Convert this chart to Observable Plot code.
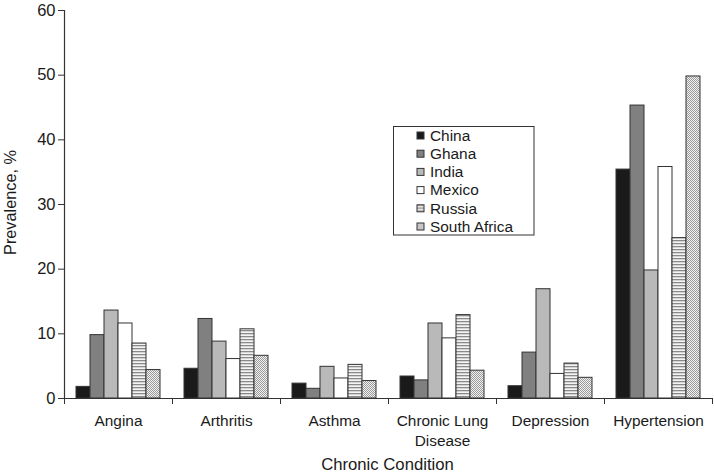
<!DOCTYPE html>
<html><head><meta charset="utf-8">
<script src="https://cdn.jsdelivr.net/npm/d3@7"></script>
<script src="https://cdn.jsdelivr.net/npm/@observablehq/plot@0.6"></script>
<style>
body{margin:0;background:#fff;}
#chart{position:relative;width:714px;height:474px;}
#chart g[aria-label="y-axis tick label"], #chart g[aria-label="y-axis tick label"] text{font-size:16.5px !important;}
#chart g[aria-label="fx-axis tick label"], #chart g[aria-label="fx-axis tick label"] text, #chart g[aria-label="fx-axis tick label"] tspan{font-size:15.4px !important;}
</style>
</head><body><div id="chart"></div>
<script>
const conditions = ["Angina","Arthritis","Asthma","Chronic Lung Disease","Depression","Hypertension"];
const countries = ["China","Ghana","India","Mexico","Russia","South Africa"];
const china = [1.8,4.6,2.3,3.4,1.9,35.4];
const ghana = [9.8,12.3,1.5,2.8,7.1,45.3];
const india = [13.6,8.8,4.9,11.6,16.9,19.8];
const mexico = [11.6,6.1,3.1,9.3,3.8,35.8];
const russia = [8.5,10.7,5.2,12.9,5.4,24.8];
const southAfrica = [4.4,6.6,2.7,4.3,3.2,49.8];
const yTicks = [0,10,20,30,40,50,60];
const fills = ["#1a1a1a","#808080","#b9b9b9","#ffffff","url(#pat-russia)","url(#pat-safrica)"];

const series = [china, ghana, india, mexico, russia, southAfrica];
const data = [];
conditions.forEach((c, i) => countries.forEach((k, j) => data.push({condition: c, country: k, value: series[j][i]})));

const font = "'Liberation Sans', Arial, Helvetica, sans-serif";
const plot = Plot.plot({
  width: 714, height: 474,
  marginTop: 10, marginBottom: 76, marginLeft: 62, marginRight: 1,
  style: {fontFamily: font, fontSize: "15px", color: "#1a1a1a", background: "white", overflow: "visible"},
  fx: {domain: conditions, padding: 0},
  x: {domain: countries, paddingInner: 0, paddingOuter: 0.74, axis: null},
  y: {domain: [0, 60]},
  color: {domain: countries, range: fills},
  marks: [
    Plot.barY(data, {fx: "condition", x: "country", y: "value", fill: "country", stroke: "#333", strokeWidth: 1}),
    Plot.ruleY([0], {stroke: "#333", strokeWidth: 1.2}),
    Plot.frame({anchor: "left", stroke: "#333", strokeWidth: 1.2, facetAnchor: "left"}),
    Plot.frame({anchor: "left", stroke: "#333", insetTop: 388, insetBottom: -5}),
    Plot.frame({anchor: "right", stroke: "#333", insetTop: 388, insetBottom: -5}),
    Plot.axisY({ticks: yTicks, tickSize: 6, tickPadding: 3, label: null, stroke: "#333", fontSize: 16.5}),
    Plot.axisFx({anchor: "bottom", tickSize: 0, tickPadding: 13, label: null, lineHeight: 1.3, fontSize: 15.4,
      tickFormat: d => d === "Chronic Lung Disease" ? "Chronic Lung\nDisease" : d})
  ]
});

const svg = d3.select(plot);

const defs = svg.insert("defs", ":first-child");
const pr = defs.append("pattern").attr("id", "pat-russia").attr("patternUnits", "userSpaceOnUse").attr("width", 4).attr("height", 3);
pr.append("rect").attr("width", 4).attr("height", 3).attr("fill", "#f4f4f4");
pr.append("rect").attr("width", 4).attr("height", 1.3).attr("fill", "#8a8a8a");
const ps = defs.append("pattern").attr("id", "pat-safrica").attr("patternUnits", "userSpaceOnUse").attr("width", 2).attr("height", 2);
ps.append("rect").attr("width", 2).attr("height", 2).attr("fill", "#f2f2f2");
ps.append("rect").attr("width", 1).attr("height", 1).attr("fill", "#9a9a9a");
ps.append("rect").attr("x", 1).attr("y", 1).attr("width", 1).attr("height", 1).attr("fill", "#9a9a9a");

// axis titles
svg.append("text").attr("x", 387.5).attr("y", 470).attr("text-anchor", "middle")
  .attr("font-family", font).attr("font-size", 16.7).attr("fill", "#1a1a1a").text("Chronic Condition");
svg.append("text").attr("transform", "translate(15.5,202.5) rotate(-90)").attr("text-anchor", "middle")
  .attr("font-family", font).attr("font-size", 16.3).attr("fill", "#1a1a1a").text("Prevalence, %");

// legend
const lg = svg.append("g").attr("transform", "translate(393.5,126.5)");
lg.append("rect").attr("width", 140.5).attr("height", 108.5).attr("fill", "white").attr("stroke", "#333").attr("stroke-width", 1);
countries.forEach((k, j) => {
  const yy = 8.5 + j * 18.2;
  lg.append("rect").attr("x", 23.5).attr("y", yy - 3.5 + 0.5).attr("width", 7).attr("height", 7)
    .attr("fill", fills[j]).attr("stroke", "#333").attr("stroke-width", 1);
  lg.append("text").attr("x", 36.5).attr("y", yy + 5.8).attr("text-anchor", "start").attr("font-family", font).attr("font-size", 15.4)
    .attr("fill", "#1a1a1a").text(k);
});

document.getElementById("chart").appendChild(plot);
</script>
</body></html>
